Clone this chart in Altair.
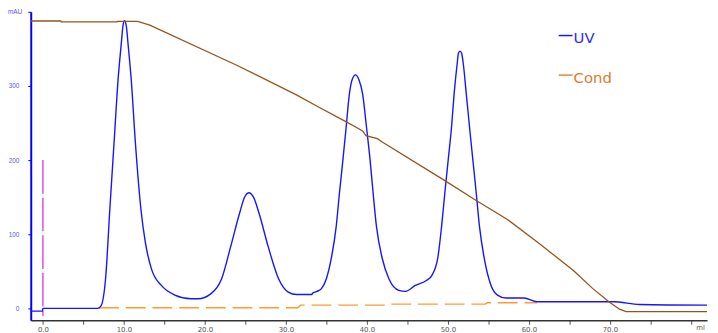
import altair as alt
import pandas as pd

# UV trace (ml, mAU)
uv_ml = [-1.5, -0.05, 0.0, 6.75, 7.16, 7.77, 8.26, 8.78, 9.30, 9.67, 9.9, 10.08, 10.3, 10.52, 10.89,
         11.43, 12.11, 12.65, 13.41, 14.63, 16.3, 18.3, 19.15, 20.77, 22.07, 23.2, 24.3, 24.9, 25.45,
         26.0, 26.67, 27.8, 29.1, 30.3, 31.3, 33.2, 33.3, 33.78, 34.39, 35.0, 35.6, 36.22, 36.62,
         37.04, 37.44, 37.84, 38.2, 38.6, 39.0, 39.48, 39.96, 40.4, 40.77, 41.18, 41.91, 42.72,
         43.94, 44.76, 45.98, 47.4, 48.0, 48.74, 49.23, 49.63, 50.04, 50.45, 50.77, 51.18, 51.3,
         51.5, 51.7, 51.87, 52.28, 52.68, 53.09, 53.5, 53.9, 54.5, 55.33, 56.13, 57.16, 59.4, 61.0,
         70.4, 73.7, 82.0]
uv_val = [-3.6, -3.6, 0, 0, 3, 44, 133, 222, 311, 356, 382, 388, 381, 356, 311,
          222, 133, 89, 53, 31, 18, 13, 13, 20, 40, 84, 129, 150, 156,
          150, 129, 84, 40, 22, 18.7, 18.7, 20.4, 22.7, 26.7, 40, 67, 111, 156,
          200, 244, 289, 309, 315, 309, 289, 244, 200, 156, 111, 67, 40,
          24.4, 23, 31, 38, 44, 67, 111, 156, 200, 244, 289, 333, 344,
          347, 344, 333, 289, 244, 200, 156, 111, 67, 31, 18, 14, 14, 9,
          9, 5.3, 4.4]

# Conductivity trace (ml, scaled)
cond_ml = [-1.5, 2.2, 2.26, 9.15, 9.2, 11.7, 13.2, 24.0, 31.3, 33.8, 37.23, 39.06, 39.5, 39.88,
           41.3, 41.9, 49.63, 53.3, 57.35, 61.4, 65.5, 67.9, 70.0, 71.2, 72.0, 82.0]
cond_val = [387.6, 387.6, 386.3, 386.3, 387, 387, 382, 327.6, 288, 273, 253, 242, 239, 233,
            229, 224.4, 172.4, 147, 120, 86.7, 51, 26.7, 8, -1, -4.4, -4.4]

# Orange dashed trace
conc_ml = [6.95, 7.3, 31.5, 31.8, 42.7, 42.9, 54.6, 54.9, 61.0]
conc_val = [0, 1, 1, 4.4, 4.4, 5.8, 5.8, 7.6, 7.6]

# Injection mark
inject_ml = [0.0]
inject_top = [200]
inject_bottom = [-10]

x_ticks = [0, 5, 10, 15, 20, 25, 30, 35, 40, 45, 50, 55, 60, 65, 70, 75, 80]
y_ticks = [0, 100, 200, 300, 400]
legend_labels = ["UV", "Cond"]
unit_labels = ["ml", "mAU"]

uv = pd.DataFrame({"ml": uv_ml, "v": uv_val})
cond = pd.DataFrame({"ml": cond_ml, "v": cond_val})
conc = pd.DataFrame({"ml": conc_ml, "v": conc_val})
inj = pd.DataFrame({"ml": inject_ml, "top": inject_top, "bottom": inject_bottom})

xs = alt.Scale(domain=[-1.5, 82], nice=False, zero=False)
ys = alt.Scale(domain=[-16, 400], nice=False, zero=False)

x_axis = alt.Axis(values=x_ticks, grid=False, title=None,
                  labelExpr="(datum.value % 10 == 0 && datum.value < 80) ? format(datum.value, '.1f') : ''",
                  domainColor="#333333", domainWidth=1.5, tickColor="#555555", tickSize=4,
                  labelFontSize=7, labelColor="#555555", labelPadding=1, labelFont="DejaVu Sans")
y_axis = alt.Axis(values=y_ticks, grid=False, title=None,
                  labelExpr="datum.value == 400 ? '' : datum.label",
                  domainColor="#0000ff", domainWidth=2, tickColor="#0000ff", tickSize=3,
                  labelFontSize=6.5, labelColor="#5555ee", labelPadding=9, labelFont="Liberation Sans")

uv_line = alt.Chart(uv).mark_line(strokeWidth=1.4, color="#1515ff", interpolate="monotone").encode(
    x=alt.X("ml:Q", scale=xs, axis=x_axis),
    y=alt.Y("v:Q", scale=ys, axis=y_axis),
)
cond_line = alt.Chart(cond).mark_line(strokeWidth=1.3, color="#94541c").encode(
    x=alt.X("ml:Q", scale=xs), y=alt.Y("v:Q", scale=ys)
)

conc_line = alt.Chart(conc).mark_line(color="#ff9a33", strokeWidth=1.4, strokeDash=[20, 7]).encode(
    x=alt.X("ml:Q", scale=xs), y=alt.Y("v:Q", scale=ys)
)

inj_rule = alt.Chart(inj).mark_rule(color="#e040e0", strokeWidth=1.4, strokeDash=[34, 4]).encode(
    x=alt.X("ml:Q", scale=xs), y=alt.Y("top:Q", scale=ys), y2="bottom:Q"
)

unit_x = alt.Chart(pd.DataFrame({"t": [unit_labels[0]]})).mark_text(
    fontSize=7, color="#555555", font="DejaVu Sans", baseline="top", dy=4
).encode(x=alt.datum(81.2, scale=xs), y=alt.datum(-16, scale=ys), text="t:N")

unit_y = alt.Chart(pd.DataFrame({"t": [unit_labels[1]]})).mark_text(
    fontSize=6.5, color="#5555ee", font="Liberation Sans", align="left", baseline="middle"
).encode(x=alt.value(-23), y=alt.datum(400, scale=ys), text="t:N")

leg_uv_line = alt.Chart(pd.DataFrame({"a": [0]})).mark_rule(color="#1515ff", strokeWidth=1.5).encode(
    x=alt.value(534), x2=alt.value(548), y=alt.value(24))
leg_cond_line = alt.Chart(pd.DataFrame({"a": [0]})).mark_rule(color="#e0883a", strokeWidth=1.5).encode(
    x=alt.value(534), x2=alt.value(548), y=alt.value(64))
leg_uv_text = alt.Chart(pd.DataFrame({"t": [legend_labels[0]]})).mark_text(
    fontSize=15, color="#2a2aff", font="DejaVu Sans", align="left", baseline="middle"
).encode(x=alt.value(549), y=alt.value(27), text="t:N")
leg_cond_text = alt.Chart(pd.DataFrame({"t": [legend_labels[1]]})).mark_text(
    fontSize=15, color="#e07a30", font="DejaVu Sans", align="left", baseline="middle"
).encode(x=alt.value(549), y=alt.value(67), text="t:N")

chart = alt.layer(
    conc_line, inj_rule, uv_line, cond_line, unit_x, unit_y,
    leg_uv_line, leg_cond_line, leg_uv_text, leg_cond_text
).properties(
    width=684, height=312,
    autosize=alt.AutoSizeParams(type="none"),
    padding={"left": 23, "top": 2, "right": 3, "bottom": 11},
).configure_view(strokeWidth=0)

chart.save("out.html", embed_options={"renderer": "svg", "actions": False})
